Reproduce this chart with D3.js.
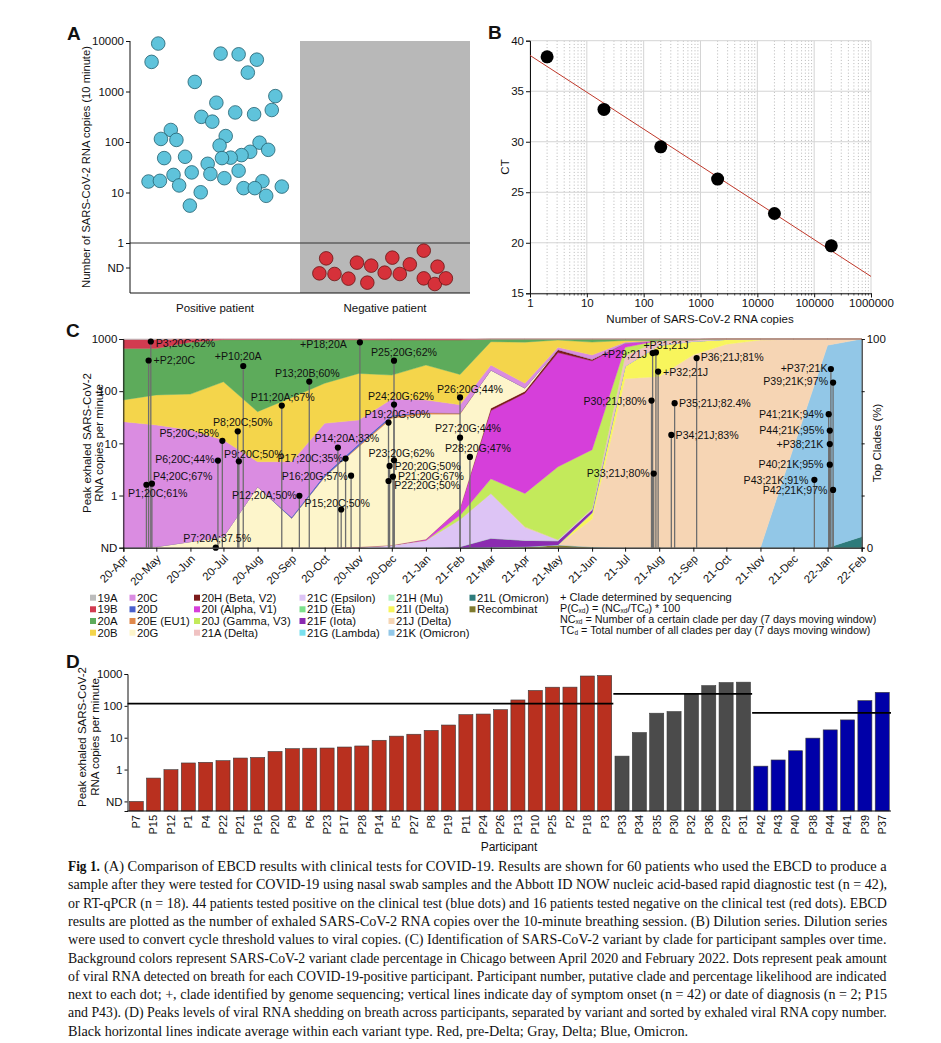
<!DOCTYPE html>
<html><head><meta charset="utf-8">
<script src="https://cdn.jsdelivr.net/npm/d3@7/dist/d3.min.js"></script>
<style>
html,body{margin:0;padding:0;background:#fff}
svg{display:block}
text{font-family:"Liberation Sans",Arial,Helvetica,sans-serif;fill:#111}
</style></head><body>
<svg id="fig" width="941" height="1043" viewBox="0 0 941 1043"></svg>
<script>
// ================= DATA =================
// ---- Panel A ----
const aCategories = ["Positive patient", "Negative patient"];
const aYTicks = [10000, 1000, 100, 10, 1];
const aPositiveCopies = [8900,3860,5630,5450,4270,2370,1550,810,600,430,385,355,315,253,173,115,110,131,85,97,70,64,55,49,48,51,48,37,27,25,22.3,23.3,19.2,16.5,17,16.7,13.8,12.2,12.2,13.1,10.1,8.6,5.5];
const aPositiveJitter = [0.166,0.127,0.533,0.639,0.746,0.693,0.381,0.855,0.508,0.834,0.619,0.730,0.420,0.484,0.240,0.182,0.273,0.563,0.527,0.762,0.813,0.707,0.656,0.592,0.541,0.324,0.201,0.457,0.639,0.363,0.256,0.473,0.555,0.109,0.176,0.779,0.289,0.668,0.734,0.893,0.416,0.801,0.352];
const aNegativeJitterX = [0.154,0.114,0.203,0.285,0.335,0.419,0.396,0.498,0.543,0.587,0.646,0.728,0.728,0.809,0.793,0.858];
const aNegativeJitterY = [0.307,0.607,0.62,0.713,0.393,0.453,0.793,0.593,0.293,0.62,0.427,0.153,0.707,0.473,0.82,0.707];

// ---- Panel B ----
const bCopies = [2, 20, 200, 2000, 20000, 200000];
const bCT = [38.4, 33.2, 29.5, 26.3, 22.9, 19.7];
const bXTicks = [1, 10, 100, 1000, 10000, 100000, 1000000];
const bYTicks = [15, 20, 25, 30, 35, 40];

// ---- Panel C: clade shares (%) per month, Chicago ----
const cMonths = ["2020-04","2020-05","2020-06","2020-07","2020-08","2020-09","2020-10","2020-11","2020-12","2021-01","2021-02","2021-03","2021-04","2021-05","2021-06","2021-07","2021-08","2021-09","2021-10","2021-11","2021-12","2022-01","2022-02"];
const share19A = [0.2,0.2,0,0,0,0,0,0,0,0,0,0,0,0,0,0,0,0,0,0,0,0,0];
const share19B = [4.3,4.3,1.5,0.3,0.3,0.3,0.4,0.4,0.5,0.5,0.5,0,0,0,0,0,0,0,0,0,0,0,0];
const share20A = [24.7,22.3,24.9,20.2,34.5,27.7,20.8,16.1,16.8,12,16.5,1.3,1.5,0.5,1.5,0.7,0.7,0.3,0,0,0,0,0];
const share20B = [10.4,14.4,17.2,27.9,24,30.8,19.2,22.3,11.5,16.7,14.5,11.2,19.7,3.5,6.2,0.8,0,0,0,0,0,0,0];
const share20C = [60.4,58.3,53.5,46.3,12,26.5,24.6,11.4,7.7,6,4,2.4,2.3,1,2,0.5,0,0,0,0,0,0,0];
const share20D = [0,0,0,0,0,0.6,1,1,0.7,0,0,0,0,0,0,0,0,0,0,0,0,0,0];
const share20E = [0,0,0,0,0,0,0,0.4,0.8,0.8,0.5,0,0,0,0,0,0,0,0,0,0,0,0];
const share20G = [0,0.5,2.9,5.3,29.2,14.1,34,48.1,60.8,60,45,18.3,1.5,0,0,0,0,0,0,0,0,0,0];
const share20H = [0,0,0,0,0,0,0,0,0,0,0,1.1,1,1.5,0.8,0,0,0,0,0,0,0,0];
const share20I = [0,0,0,0,0,0,0,0,0,0.5,3.5,32.7,48,54.7,42.7,2,0,0,0,0,0,0,0];
const share20J = [0,0,0,0,0,0,0,0,0,0,2,7,16,35,28.3,4,0,0,0,0,0,0,0];
const share21A = [0,0,0,0,0,0,0,0,0,0,0,0,0.5,0,0.5,5,2.3,0.8,0.2,0,0,0,0];
const share21C = [0,0,0,0,0,0,0,0.3,1.2,3.5,13,21.5,6,0.5,0,0,0,0,0,0,0,0,0];
const share21D = [0,0,0,0,0,0,0,0,0,0,0,0,0,0,0,0,0,0,0,0,0,0,0];
const share21F = [0,0,0,0,0,0,0,0,0,0,0.5,4.3,3,2,1.5,0,0,0,0,0,0,0,0];
const share21G = [0,0,0,0,0,0,0,0,0,0,0,0,0,0,0,0,0,0,0,0,0,0,0];
const share21H = [0,0,0,0,0,0,0,0,0,0,0,0,0,0,0,0,0,0,0,0,0,0,0];
const share21I = [0,0,0,0,0,0,0,0,0,0,0,0,0,0,3,6,15,6.5,2.3,0.5,0,0,0];
const share21J = [0,0,0,0,0,0,0,0,0,0,0,0,0,0,13.5,81,82,92.5,97.5,99.5,52,3,0];
const share21K = [0,0,0,0,0,0,0,0,0,0,0,0,0,0,0,0,0,0,0,0,48,97,94.7];
const share21L = [0,0,0,0,0,0,0,0,0,0,0,0,0,0,0,0,0,0,0,0,0,0,5.3];
const shareRecomb = [0,0,0,0,0,0,0,0,0,0,0,0.2,0.5,1.3,0.3,0,0,0,0,0,0,0,0];

const legendKeys = ["19A","19B","20A","20B","20C","20D","20E","20G","20H","20I","20J","21A","21C","21D","21F","21G","21H","21I","21J","21K","21L","Recombinant"];
const legendLabels = ["19A","19B","20A","20B","20C","20D","20E (EU1)","20G","20H (Beta, V2)","20I (Alpha, V1)","20J (Gamma, V3)","21A (Delta)","21C (Epsilon)","21D (Eta)","21F (Iota)","21G (Lambda)","21H (Mu)","21I (Delta)","21J (Delta)","21K (Omicron)","21L (Omicron)","Recombinat"];
// stacking order, bottom -> top
const stackOrder = ["Recombinant","21L","21K","21J","21I","21H","21G","21F","21D","21C","21A","20J","20I","20H","20G","20E","20D","20C","20B","20A","19B","19A"];
const cLeftTicks = [1000, 100, 10, 1, "ND"];
const cRightTicks = [0, 25, 50, 75, 100];

// ---- Participants (panels C and D) ----
const pIds = ["P1","P2","P3","P4","P5","P6","P7","P8","P9","P10","P11","P12","P13","P14","P15","P16","P17","P18","P19","P20","P21","P22","P23","P24","P25","P26","P27","P28","P29","P30","P31","P32","P33","P34","P35","P36","P37","P38","P39","P40","P41","P42","P43","P44"];
const pClade = ["20C","20C","20C","20C","20C","20C","20A","20C","20C","20A","20A","20A","20B","20A","20C","20G","20C","20A","20G","20G","20G","20G","20G","20G","20G","20G","20G","20G","21J","21J","21J","21J","21J","21J","21J","21J","21K","21K","21K","21K","21K","21K","21K","21K"];
const pLikelihood = [61,null,62,67,58,44,37.5,50,50,null,67,50,60,33,50,57,35,null,50,50,67,50,62,62,62,44,44,47,null,80,null,null,80,83,82.4,81,null,null,97,95,94,97,91,95];
const pOnset = ["2020-04-22","2020-04-24","2020-04-26","2020-04-27","2020-06-30","2020-06-26","2020-06-24","2020-07-14","2020-07-15","2020-07-19","2020-08-23","2020-09-08","2020-09-17","2020-10-13","2020-10-16","2020-10-25","2020-10-20","2020-11-02","2020-11-28","2020-11-29","2020-12-02","2020-11-28","2020-12-03","2020-12-03","2020-12-03","2021-02-01","2021-02-01","2021-02-10","2021-07-26","2021-07-25","2021-07-29","2021-07-31","2021-07-27","2021-08-12","2021-08-15","2021-09-04","2022-01-04","2022-01-03","2022-01-06","2022-01-03","2022-01-02","2022-01-06","2021-12-20","2022-01-03"];
const pPeak = [1.61,387,896,1.69,11.2,4.68,"ND",17,4.52,304,53,0.99,153,8.3,0.54,2.4,5.1,865,25,3.7,2.3,1.9,4.74,55.3,385,75.8,12.85,5.5,538,66,554,238,2.64,14.5,58.8,431,266,9.7,146,3.9,36.2,1.28,2.0,17.6];
const dGroups = ["pre-Delta","Delta","Omicron"];
const dYTicks = [1000, 100, 10, 1, "ND"];

// ---- Caption ----
const captionLines = [
 "(A) Comparison of EBCD results with clinical tests for COVID-19. Results are shown for 60 patients who used the EBCD to produce a",
 "sample after they were tested for COVID-19 using nasal swab samples and the Abbott ID NOW nucleic acid-based rapid diagnostic test (n = 42),",
 "or RT-qPCR (n = 18). 44 patients tested positive on the clinical test (blue dots) and 16 patients tested negative on the clinical test (red dots). EBCD",
 "results are plotted as the number of exhaled SARS-CoV-2 RNA copies over the 10-minute breathing session. (B) Dilution series. Dilution series",
 "were used to convert cycle threshold values to viral copies. (C) Identification of SARS-CoV-2 variant by clade for participant samples over time.",
 "Background colors represent SARS-CoV-2 variant clade percentage in Chicago between April 2020 and February 2022. Dots represent peak amount",
 "of viral RNA detected on breath for each COVID-19-positive participant. Participant number, putative clade and percentage likelihood are indicated",
 "next to each dot; +, clade identified by genome sequencing; vertical lines indicate day of symptom onset (n = 42) or date of diagnosis (n = 2; P15",
 "and P43). (D) Peaks levels of viral RNA shedding on breath across participants, separated by variant and sorted by exhaled viral RNA copy number.",
 "Black horizontal lines indicate average within each variant type. Red, pre-Delta; Gray, Delta; Blue, Omicron."
];

// ================= STYLE / LAYOUT =================
const cladeColor = {"19A":"#bcbcbc","19B":"#d23b50","20A":"#5dab5b","20B":"#f4d54b","20C":"#da8ce1","20D":"#4b60cc","20E":"#e0884b","20G":"#fdf5cb","20H":"#7c1b1b","20I":"#d63fda","20J":"#c3ea5b","21A":"#f0c2c2","21C":"#ddc4f5","21D":"#7ce08c","21F":"#8b2bb0","21G":"#79e0ee","21H":"#b4f3c6","21I":"#f8f55c","21J":"#f6d5b4","21K":"#92c7e7","21L":"#2e7b7b","Recombinant":"#7e7a2e"};
const groupColor = {"pre-Delta":"#b9301f","Delta":"#4b4b4b","Omicron":"#0000a8"};
// label offsets (dx, dy, anchor) relative to each dot in panel C
const labelPlace = {P1:[-18.4,9,"start"],P2:[5,0,"start"],P3:[5,1.6,"start"],P4:[1,-7.6,"start"],P5:[-3.4,-7.4,"end"],P6:[-3.3,-1,"end"],P7:[1.5,-9.4,"middle"],P8:[5,-8.7,"middle"],P9:[15,-7,"middle"],P10:[-5,-9.3,"middle"],P11:[1,-8,"middle"],P12:[-2.6,0,"end"],P13:[-2,-8.4,"middle"],P14:[9,-9.4,"middle"],P15:[-4,-6.6,"middle"],P16:[-3.4,0.7,"end"],P17:[-2.7,0,"end"],P18:[-13,1.6,"end"],P19:[9,-8,"middle"],P20:[5,0,"start"],P21:[5,0,"start"],P22:[5.7,4.3,"start"],P23:[7.4,-7.3,"middle"],P24:[7,-8.3,"middle"],P25:[10,-8,"middle"],P26:[10,-8.6,"middle"],P27:[8,-9,"middle"],P28:[8,-8.4,"middle"],P29:[-5.6,1,"end"],P30:[-5,0.3,"end"],P31:[10,-7.3,"middle"],P32:[5,0.6,"start"],P33:[-4,0,"end"],P34:[4.3,0.7,"start"],P35:[4.3,0,"start"],P36:[4,-1,"start"],P37:[-3.4,-1,"end"],P38:[-6.4,0,"end"],P39:[-5,-1,"end"],P40:[-6.4,-0.7,"end"],P41:[-5,0,"end"],P42:[-5.6,0.7,"end"],P43:[-6,0,"end"],P44:[-5.7,0,"end"]};

// ================= DRAW =================
const svg = d3.select("#fig");
svg.append("rect").attr("width",941).attr("height",1043).attr("fill","#fff");
const parseDay = d3.utcParse("%Y-%m-%d");
const parseMonth = d3.utcParse("%Y-%m");

function panelLetter(t,x,y){
  svg.append("text").attr("x",x).attr("y",y).attr("font-size",19).attr("font-weight","bold").text(t);
}
function styleAxis(g,fs){
  g.selectAll("path.domain").attr("stroke","#111");
  g.selectAll(".tick line").attr("stroke","#111");
  g.selectAll(".tick text").attr("font-size",fs).attr("fill","#111").attr("font-family",'"Liberation Sans",Arial,sans-serif');
}

// ---------- Panel A ----------
{
  const g = svg.append("g");
  const x = d3.scaleBand().domain(aCategories).range([130,470]);
  const y = d3.scaleLog().domain([1,10000]).range([243,41]);
  const yND = d3.scaleLinear().domain([0,1]).range([243,293]);
  const bw = x.bandwidth();
  g.append("rect").attr("x",x("Negative patient")).attr("y",41).attr("width",bw).attr("height",293-41).attr("fill","#b8b8b8");
  g.append("line").attr("x1",130).attr("x2",470).attr("y1",y(1)).attr("y2",y(1)).attr("stroke","#333").attr("stroke-width",1);
  const ax = g.append("g").attr("transform","translate(130,0)")
    .call(d3.axisLeft(y).tickValues(aYTicks).tickFormat(d3.format("d")).tickSize(4).tickPadding(2));
  ax.select("path.domain").remove();
  styleAxis(ax,11.5);
  g.append("line").attr("x1",130).attr("x2",130).attr("y1",41).attr("y2",293).attr("stroke","#111");
  g.append("line").attr("x1",130).attr("x2",470).attr("y1",293).attr("y2",293).attr("stroke","#111");
  g.append("line").attr("x1",126).attr("x2",130).attr("y1",yND(0.5)).attr("y2",yND(0.5)).attr("stroke","#111");
  g.append("text").attr("x",124).attr("y",yND(0.5)).attr("dy","0.35em").attr("text-anchor","end").attr("font-size",11.5).text("ND");
  g.selectAll("circle.pos").data(aPositiveCopies).join("circle").attr("class","pos")
    .attr("cx",(d,i)=>x("Positive patient")+aPositiveJitter[i]*bw).attr("cy",d=>y(d)).attr("r",6.8)
    .attr("fill","#5fc3db").attr("stroke","#23606f").attr("stroke-width",0.8);
  g.selectAll("circle.neg").data(aNegativeJitterX).join("circle").attr("class","neg")
    .attr("cx",(d)=>x("Negative patient")+d*bw).attr("cy",(d,i)=>yND(aNegativeJitterY[i])).attr("r",6.8)
    .attr("fill","#d6313a").attr("stroke","#6a1515").attr("stroke-width",0.8);
  g.selectAll("text.cat").data(aCategories).join("text").attr("class","cat")
    .attr("x",d=>x(d)+bw/2).attr("y",312).attr("text-anchor","middle").attr("font-size",11.5).text(d=>d);
  g.append("text").attr("transform","translate(90,167) rotate(-90)").attr("text-anchor","middle").attr("font-size",11.2)
    .text("Number of SARS-CoV-2 RNA copies (10 minute)");
  panelLetter("A",67,40);
}

// ---------- Panel B ----------
{
  const g = svg.append("g");
  const x = d3.scaleLog().domain([1,1e6]).range([530,871]);
  const y = d3.scaleLinear().domain([15,40]).range([293.3,40.7]);
  const minor = [];
  for (const dec of [1,10,100,1000,10000,100000]) for (let k=2;k<10;k++) minor.push(dec*k);
  g.selectAll("line.minor").data(minor).join("line").attr("class","minor")
    .attr("x1",d=>x(d)).attr("x2",d=>x(d)).attr("y1",40.7).attr("y2",293.3)
    .attr("stroke","#9a9a9a").attr("stroke-width",0.7).attr("stroke-dasharray","1,2.2");
  g.selectAll("line.vmaj").data(bXTicks).join("line").attr("class","vmaj")
    .attr("x1",d=>x(d)).attr("x2",d=>x(d)).attr("y1",40.7).attr("y2",293.3).attr("stroke","#d4d4d4");
  g.selectAll("line.hmaj").data(bYTicks).join("line").attr("class","hmaj")
    .attr("x1",530).attr("x2",871).attr("y1",d=>y(d)).attr("y2",d=>y(d)).attr("stroke","#d4d4d4");
  const ax = g.append("g").attr("transform","translate(0,293.3)")
    .call(d3.axisBottom(x).tickValues(bXTicks).tickFormat(d3.format("d")).tickSize(4).tickPadding(2));
  styleAxis(ax,11.5);
  g.selectAll("line.mt").data(minor).join("line").attr("class","mt")
    .attr("x1",d=>x(d)).attr("x2",d=>x(d)).attr("y1",293.3).attr("y2",295.5).attr("stroke","#111").attr("stroke-width",0.7);
  const ay = g.append("g").attr("transform","translate(530,0)")
    .call(d3.axisLeft(y).tickValues(bYTicks).tickSize(4).tickPadding(2));
  styleAxis(ay,11.5);
  // regression of CT on log10(copies)
  const lx = bCopies.map(Math.log10), mx = d3.mean(lx), my = d3.mean(bCT);
  const slope = d3.sum(lx,(v,i)=>(v-mx)*(bCT[i]-my))/d3.sum(lx,v=>(v-mx)*(v-mx));
  const icpt = my - slope*mx;
  g.append("line").attr("x1",x(1)).attr("y1",y(icpt)).attr("x2",x(1e6)).attr("y2",y(icpt+slope*6))
    .attr("stroke","#c0392b").attr("stroke-width",1);
  g.selectAll("circle.pt").data(bCopies).join("circle").attr("class","pt")
    .attr("cx",d=>x(d)).attr("cy",(d,i)=>y(bCT[i])).attr("r",6.5).attr("fill","#000");
  g.append("text").attr("x",700).attr("y",323).attr("text-anchor","middle").attr("font-size",11.5).text("Number of SARS-CoV-2 RNA copies");
  g.append("text").attr("transform","translate(509,167) rotate(-90)").attr("text-anchor","middle").attr("font-size",11.5).text("CT");
  panelLetter("B",488,39);
}

// ---------- Panel C ----------
{
  const g = svg.append("g");
  const x = d3.scaleUtc().domain([parseMonth("2020-04"),parseMonth("2022-02")]).range([123.3,861.7]);
  const y = d3.scaleLog().domain([0.1,1000]).range([547.7,339]);
  const yP = d3.scaleLinear().domain([0,1]).range([547.7,339]);
  const series = {"19A":share19A,"19B":share19B,"20A":share20A,"20B":share20B,"20C":share20C,"20D":share20D,"20E":share20E,"20G":share20G,"20H":share20H,"20I":share20I,"20J":share20J,"21A":share21A,"21C":share21C,"21D":share21D,"21F":share21F,"21G":share21G,"21H":share21H,"21I":share21I,"21J":share21J,"21K":share21K,"21L":share21L,"Recombinant":shareRecomb};
  const table = cMonths.map((m,i)=>{const r={date:parseMonth(m)}; for (const k of stackOrder) r[k]=series[k][i]; return r;});
  const stacked = d3.stack().keys(stackOrder).offset(d3.stackOffsetExpand)(table);
  const area = d3.area().x(d=>x(d.data.date)).y0(d=>yP(d[0])).y1(d=>yP(d[1]));
  g.selectAll("path.layer").data(stacked).join("path").attr("class","layer")
    .attr("d",area).attr("fill",d=>cladeColor[d.key]).attr("stroke",d=>cladeColor[d.key]).attr("stroke-width",0.4);
  // participants
  const val = v => v==="ND" ? 0.1 : v;
  const parts = pIds.map((id,i)=>({id,clade:pClade[i],pct:pLikelihood[i],date:parseDay(pOnset[i]),v:val(pPeak[i])}));
  g.selectAll("line.onset").data(parts).join("line").attr("class","onset")
    .attr("x1",d=>x(d.date)).attr("x2",d=>x(d.date)).attr("y1",d=>y(d.v)).attr("y2",547.7)
    .attr("stroke","#6e6e6e").attr("stroke-width",1.3);
  g.selectAll("circle.pd").data(parts).join("circle").attr("class","pd")
    .attr("cx",d=>x(d.date)).attr("cy",d=>y(d.v)).attr("r",3.1).attr("fill","#000");
  g.selectAll("text.pl").data(parts).join("text").attr("class","pl")
    .attr("x",d=>x(d.date)+labelPlace[d.id][0]).attr("y",d=>y(d.v)+labelPlace[d.id][1]).attr("dy","0.35em")
    .attr("text-anchor",d=>labelPlace[d.id][2]).attr("font-size",10.6)
    .text(d=>(d.pct===null?"+":"")+d.id+";"+d.clade+(d.pct===null?"":";"+d.pct+"%"));
  // axes
  const ax = g.append("g").attr("transform","translate(0,547.7)")
    .call(d3.axisBottom(x).ticks(d3.utcMonth.every(1)).tickFormat(d3.utcFormat("%y-%b")).tickSize(4));
  styleAxis(ax,11.3);
  ax.select("path.domain").attr("stroke","#444").attr("stroke-width",1.5);
  ax.selectAll(".tick text").attr("x",0).attr("y",0).attr("dy","0.35em").attr("text-anchor","end")
    .attr("transform","translate(2,9) rotate(-45)");
  const ayL = g.append("g").attr("transform","translate(123.3,0)")
    .call(d3.axisLeft(y).tickValues(cLeftTicks.map(val)).tickFormat(d=>d===0.1?"ND":d3.format("d")(d)).tickSize(4).tickPadding(2));
  styleAxis(ayL,11.5);
  const ayR = g.append("g").attr("transform","translate(861.7,0)")
    .call(d3.axisRight(yP).tickValues(cRightTicks.map(d=>d/100)).tickFormat(d=>(d===0||d===1)?d3.format("d")(d*100):"").tickSize(3).tickPadding(2));
  styleAxis(ayR,11.5);
  g.append("text").attr("transform","translate(91,443) rotate(-90)").attr("text-anchor","middle").attr("font-size",11.5).text("Peak exhaled SARS-CoV-2");
  g.append("text").attr("transform","translate(103,443) rotate(-90)").attr("text-anchor","middle").attr("font-size",11.5).text("RNA copies per minute");
  g.append("text").attr("transform","translate(881,443) rotate(-90)").attr("text-anchor","middle").attr("font-size",11.5).text("Top Clades (%)");
  panelLetter("C",66,337);
  // legend
  const colX = [90,129.5,194,299.5,388.5,469.5];
  const rowY = [597.7,609.3,621,632.7];
  const lg = g.append("g");
  legendKeys.forEach((k,i)=>{
    const cx = colX[Math.floor(i/4)], cy = rowY[i%4];
    lg.append("rect").attr("x",cx).attr("y",cy-3).attr("width",6).attr("height",6).attr("fill",cladeColor[k]);
    lg.append("text").attr("x",cx+7.5).attr("y",cy).attr("dy","0.35em").attr("font-size",11.3).text(legendLabels[i]);
  });
  const fx = 560;
  lg.append("text").attr("x",fx).attr("y",597).attr("dy","0.35em").attr("font-size",11.1).text("+ Clade determined by sequencing");
  function formula(yy, parts){
    const t = lg.append("text").attr("x",fx).attr("y",yy).attr("dy","0.3em").attr("font-size",10.8);
    parts.forEach(p=>{
      if (p.sub) t.append("tspan").attr("font-size",6.5).attr("dy","0.2em").text(p.t);
      else t.append("tspan").attr("dy",p.up?"-0.12em":null).text(p.t);
    });
  }
  formula(608.6,[{t:"P(C"},{t:"xd",sub:1},{t:") = (NC",up:1},{t:"xd",sub:1},{t:"/TC",up:1},{t:"d",sub:1},{t:") * 100",up:1}]);
  formula(619.6,[{t:"NC"},{t:"xd",sub:1},{t:" = Number of a certain clade per day (7 days moving window)",up:1}]);
  formula(630.6,[{t:"TC"},{t:"d",sub:1},{t:" = Total number of all clades per day (7 days moving window)",up:1}]);
}

// ---------- Panel D ----------
{
  const g = svg.append("g");
  const val = v => v==="ND" ? 0.1 : v;
  const groupOf = c => c==="21J" ? "Delta" : (c==="21K" ? "Omicron" : "pre-Delta");
  const parts = pIds.map((id,i)=>({id,group:groupOf(pClade[i]),v:val(pPeak[i])}));
  const ordered = [];
  dGroups.forEach(gr=>{ ordered.push(...parts.filter(p=>p.group===gr).sort((a,b)=>d3.ascending(a.v,b.v))); });
  const x = d3.scaleBand().domain(ordered.map(d=>d.id)).range([127.5,891]).paddingInner(0.19).paddingOuter(0.1);
  const y = d3.scaleLog().domain([0.05,1000]).range([811,674]);
  g.selectAll("rect.bar").data(ordered).join("rect").attr("class","bar")
    .attr("x",d=>x(d.id)).attr("width",x.bandwidth()).attr("y",d=>y(d.v)).attr("height",d=>811-y(d.v))
    .attr("fill",d=>groupColor[d.group]).attr("stroke","#3a3a3a").attr("stroke-width",0.6);
  const half = x.step()*x.paddingInner()/2;
  dGroups.forEach((gr,gi)=>{
    const items = ordered.filter(d=>d.group===gr);
    const m = d3.mean(items,d=>d.v);
    const x1 = gi===0 ? 127.5 : x(items[0].id)-half;
    const x2 = gi===dGroups.length-1 ? 891 : x(items[items.length-1].id)+x.bandwidth()+half;
    g.append("line").attr("x1",x1).attr("x2",x2).attr("y1",y(m)).attr("y2",y(m)).attr("stroke","#000").attr("stroke-width",1.6);
  });
  const ay = g.append("g").attr("transform","translate(127.5,0)")
    .call(d3.axisLeft(y).tickValues(dYTicks.map(val)).tickFormat(d=>d===0.1?"ND":d3.format("d")(d)).tickSize(3).tickPadding(2));
  styleAxis(ay,11.5);
  g.append("line").attr("x1",127.5).attr("x2",891).attr("y1",811).attr("y2",811).attr("stroke","#111").attr("stroke-width",1.2);
  g.selectAll("text.pid").data(ordered).join("text").attr("class","pid")
    .attr("transform",d=>`translate(${x(d.id)+x.bandwidth()/2},815) rotate(-90)`).attr("dy","0.35em")
    .attr("text-anchor","end").attr("font-size",11).text(d=>d.id);
  g.append("text").attr("x",509).attr("y",851).attr("text-anchor","middle").attr("font-size",12).text("Participant");
  g.append("text").attr("transform","translate(86,737) rotate(-90)").attr("text-anchor","middle").attr("font-size",11.5).text("Peak exhaled SARS-CoV-2");
  g.append("text").attr("transform","translate(99,737) rotate(-90)").attr("text-anchor","middle").attr("font-size",11.5).text("RNA copies per minute");
  panelLetter("D",66,668);
}

// ---------- Caption (condensed serif, justified by horizontal scaling) ----------
{
  const serif = '"Liberation Serif","Times New Roman",serif';
  const g = svg.append("g");
  const x0 = 68, x1 = 887, fs = 15.2, lh = 18.3, y0 = 871;
  captionLines.forEach((line,i)=>{
    const yy = y0 + i*lh;
    let startX = x0;
    if (i===0){
      const b = g.append("text").attr("font-size",fs).attr("font-weight","bold").style("font-family",serif).text("Fig 1.");
      const bw = b.node().getComputedTextLength();
      const sb = 0.88;
      b.attr("transform",`translate(${x0},${yy}) scale(${sb},1)`);
      startX = x0 + bw*sb + 4;
    }
    const t = g.append("text").attr("font-size",fs).style("font-family",serif).text(line);
    const natural = t.node().getComputedTextLength();
    const target = i===captionLines.length-1 ? 688 : x1;
    t.attr("transform",`translate(${startX},${yy}) scale(${(target-startX)/natural},1)`);
  });
}
</script>
</body></html>
